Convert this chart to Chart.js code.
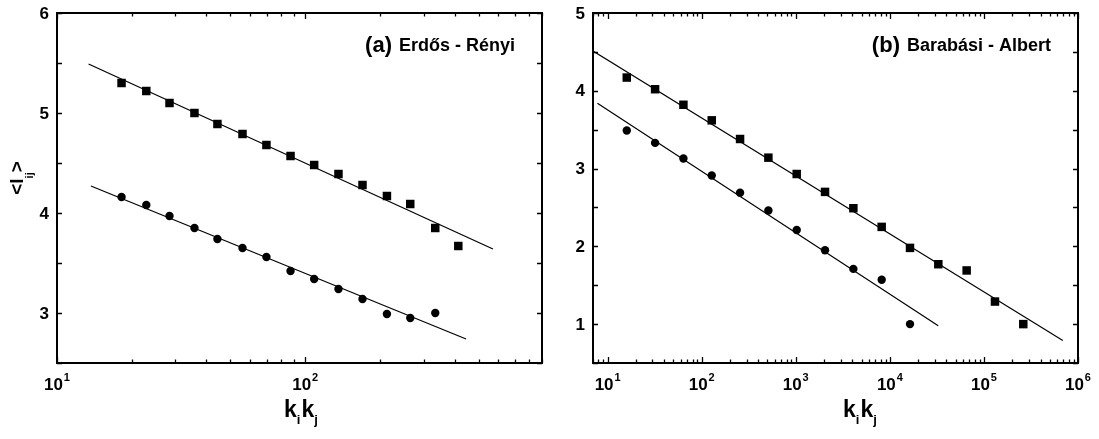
<!DOCTYPE html>
<html>
<head>
<meta charset="utf-8">
<script src="https://cdn.jsdelivr.net/npm/chart.js@4.4.1/dist/chart.umd.min.js"></script>
<style>
  body { margin: 0; background: #fff; }
  #wrap { position: relative; width: 1099px; height: 439px; }
  canvas { position: absolute; top: 0; }
</style>
</head>
<body>
<div id="wrap">
  <canvas id="erChart" width="560" height="439" style="left:0"></canvas>
  <canvas id="baChart" width="539" height="439" style="left:560px"></canvas>
</div>
<script>
// (a) Erdős - Rényi
const erX = [18.2, 22.9, 28.4, 35.8, 44.3, 55.9, 69.8, 87.3, 108.7, 136.2, 170.2, 213.5, 265.1, 334.3, 414.0];
const erSquares = [5.30, 5.22, 5.10, 5.00, 4.89, 4.79, 4.68, 4.57, 4.48, 4.39, 4.28, 4.17, 4.09, 3.85, 3.67];
const erCircles = [4.16, 4.08, 3.97, 3.85, 3.74, 3.65, 3.56, 3.42, 3.34, 3.24, 3.14, 2.99, 2.95, 3.00];
const erFitSqX = [13.4, 571];
const erFitSqY = [5.49, 3.64];
const erFitCiX = [13.7, 445];
const erFitCiY = [4.27, 2.74];
const erYTicks = [3, 4, 5, 6];
const erXExps = [1, 2];

// (b) Barabási - Albert
const baX = [16, 32, 64, 128, 256, 512, 1024, 2048, 4096, 8192, 16384, 32768, 65536, 131072, 262144];
const baSquares = [4.17, 4.02, 3.82, 3.62, 3.38, 3.14, 2.93, 2.70, 2.49, 2.25, 1.98, 1.77, 1.69, 1.29, 1.00];
const baCircles = [3.49, 3.33, 3.13, 2.91, 2.69, 2.46, 2.21, 1.95, 1.71, 1.57, 1.00];
const baFitSqX = [7, 690000];
const baFitSqY = [4.51, 0.79];
const baFitCiX = [7.8, 32700];
const baFitCiY = [3.84, 0.98];
const baYTicks = [1, 2, 3, 4, 5];
const baXExps = [1, 2, 3, 4, 5, 6];

const FONT = '"Liberation Sans", Arial, sans-serif';

function pts(xs, ys) {
  return ys.map((y, i) => ({ x: xs[i], y: y }));
}

function logTicks(min, max) {
  const out = [];
  for (let e = Math.floor(Math.log10(min)); e <= Math.ceil(Math.log10(max)); e++) {
    for (let m = 1; m <= 9; m++) {
      const v = m * Math.pow(10, e);
      if (v >= min * 0.999 && v <= max * 1.001) out.push({ v: v, major: m === 1 });
    }
  }
  return out;
}

function drawSubText(ctx, parts, x, y) {
  // parts: [text, fontSize, dy]
  parts.forEach(p => {
    ctx.font = 'bold ' + p[1] + 'px ' + FONT;
    ctx.fillText(p[0], x, y + p[2]);
    x += ctx.measureText(p[0]).width;
  });
}

function textWidth(ctx, parts) {
  let w = 0;
  parts.forEach(p => { ctx.font = 'bold ' + p[1] + 'px ' + FONT; w += ctx.measureText(p[0]).width; });
  return w;
}

function panelPlugin(p) {
  return {
    id: 'panel',
    afterDatasetsDraw(chart) {
      const ctx = chart.ctx, a = chart.chartArea;
      const xs = chart.scales.x, ys = chart.scales.y;
      ctx.save();
      ctx.strokeStyle = '#000';
      ctx.fillStyle = '#000';

      // frame
      ctx.lineWidth = 2;
      ctx.strokeRect(a.left, a.top, a.right - a.left, a.bottom - a.top);

      // inward ticks, all four sides
      ctx.lineWidth = 1.3;
      ctx.beginPath();
      logTicks(xs.min, xs.max).forEach(t => {
        const px = Math.round(xs.getPixelForValue(t.v)) + 0.5;
        const len = t.major ? 6 : 3.5;
        ctx.moveTo(px, a.bottom); ctx.lineTo(px, a.bottom - len);
        ctx.moveTo(px, a.top); ctx.lineTo(px, a.top + len);
      });
      for (let v = ys.min; v <= ys.max + 1e-9; v += 0.5) {
        const py = Math.round(ys.getPixelForValue(v)) + 0.5;
        ctx.moveTo(a.left, py); ctx.lineTo(a.left + 5, py);
        ctx.moveTo(a.right, py); ctx.lineTo(a.right - 5, py);
      }
      ctx.stroke();

      // y tick labels
      ctx.font = 'bold 17px ' + FONT;
      ctx.textAlign = 'right';
      ctx.textBaseline = 'middle';
      p.yTicks.forEach(v => ctx.fillText(String(v), a.left - 8, ys.getPixelForValue(v) + 1));

      // x tick labels 10^n
      ctx.textAlign = 'left';
      ctx.textBaseline = 'alphabetic';
      p.xExps.forEach(e => {
        const parts = [['10', 17, 0], [' ', 3, 0], [String(e), 11, -9]];
        const w = textWidth(ctx, parts);
        drawSubText(ctx, parts, xs.getPixelForValue(Math.pow(10, e)) - w / 2, 390);
      });

      // x title k_i k_j
      const xt = [['k', 23, 0], ['i', 13, 7], [' ', 4, 0], ['k', 23, 0], ['j', 13, 7]];
      drawSubText(ctx, xt, p.titleX - textWidth(ctx, xt) / 2, 417);

      // y title <l_ij>
      if (p.yTitle) {
        ctx.save();
        ctx.translate(23, 178);
        ctx.rotate(-Math.PI / 2);
        const yt = [['<l', 19, 0], ['ij', 11, 10], ['>', 19, 0]];
        drawSubText(ctx, yt, -textWidth(ctx, yt) / 2, 0);
        ctx.restore();
      }

      // panel annotation
      ctx.textAlign = 'right';
      const right = a.right - 27;
      ctx.font = 'bold 18px ' + FONT;
      ctx.fillText(p.label, right, 51);
      const lw = ctx.measureText(p.label).width;
      ctx.font = 'bold 22px ' + FONT;
      ctx.fillText(p.tag, right - lw - 7, 52);

      ctx.restore();
    }
  };
}

function makePanel(id, d) {
  const black = '#000';
  new Chart(document.getElementById(id), {
    type: 'scatter',
    data: {
      datasets: [
        { data: pts(d.fitSqX, d.fitSqY), showLine: true, borderColor: black, borderWidth: 1.2, pointRadius: 0 },
        { data: pts(d.fitCiX, d.fitCiY), showLine: true, borderColor: black, borderWidth: 1.2, pointRadius: 0 },
        { data: pts(d.x, d.squares), pointStyle: 'rect', pointRadius: 6, pointBorderWidth: 0, backgroundColor: black },
        { data: pts(d.x, d.circles), pointStyle: 'circle', pointRadius: 4.2, pointBorderWidth: 0, backgroundColor: black }
      ]
    },
    options: {
      responsive: false,
      animation: false,
      layout: { padding: d.padding },
      plugins: { legend: { display: false }, tooltip: { enabled: false } },
      scales: {
        x: { type: 'logarithmic', min: d.xMin, max: d.xMax, display: false },
        y: { type: 'linear', min: d.yMin, max: d.yMax, display: false }
      }
    },
    plugins: [panelPlugin(d)]
  });
}

makePanel('erChart', {
  x: erX, squares: erSquares, circles: erCircles,
  fitSqX: erFitSqX, fitSqY: erFitSqY, fitCiX: erFitCiX, fitCiY: erFitCiY,
  xMin: 10, xMax: 900, yMin: 2.5, yMax: 6,
  yTicks: erYTicks, xExps: erXExps,
  padding: { left: 57, right: 18, top: 13, bottom: 76 },
  titleX: 301, yTitle: true,
  tag: '(a)', label: 'Erdős - Rényi'
});

makePanel('baChart', {
  x: baX, squares: baSquares, circles: baCircles,
  fitSqX: baFitSqX, fitSqY: baFitSqY, fitCiX: baFitCiX, fitCiY: baFitCiY,
  xMin: 7, xMax: 1000000, yMin: 0.5, yMax: 5,
  yTicks: baYTicks, xExps: baXExps,
  padding: { left: 33, right: 21, top: 13, bottom: 76 },
  titleX: 300, yTitle: false,
  tag: '(b)', label: 'Barabási - Albert'
});
</script>
</body>
</html>
